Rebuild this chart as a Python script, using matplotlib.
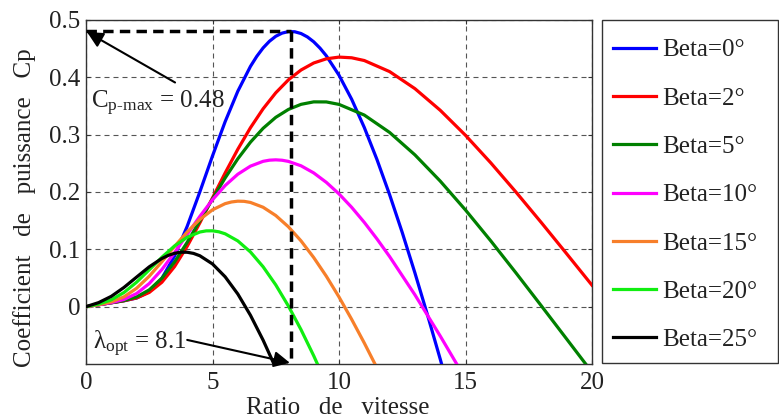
import matplotlib
matplotlib.use("Agg")
import matplotlib.pyplot as plt
from matplotlib.patches import Rectangle

# ---------------- data ----------------
labels = ["Beta=0°", "Beta=2°", "Beta=5°", "Beta=10°", "Beta=15°", "Beta=20°", "Beta=25°"]
colors = ["#0000FF", "#FF0000", "#008000", "#FF00FF", "#F77F2A", "#11EE11", "#000000"]

lam_b0 = [0, 0.5, 1, 1.5, 2, 2.5, 3, 3.5, 4, 4.5, 5, 5.5, 6, 6.5, 6.75, 7, 7.25, 7.5, 7.75,
          8, 8.25, 8.5, 8.75, 9, 9.25, 9.5, 10, 10.5, 11, 11.5, 12, 12.5, 13, 13.5, 14, 14.5]
cp_b0 = [0, 0.0034, 0.0068, 0.0103, 0.0151, 0.0261, 0.0495, 0.0883, 0.1402, 0.2002,
         0.2629, 0.3227, 0.3757, 0.4191, 0.4366, 0.4513, 0.4629, 0.4716, 0.4771,
         0.4798, 0.4795, 0.4764, 0.4705, 0.4620, 0.4509, 0.4375, 0.4037, 0.3618,
         0.3125, 0.2567, 0.1954, 0.1293, 0.0590, -0.0147, -0.0913, -0.1703]

lam_b2 = [0, 0.5, 1, 1.5, 2, 2.5, 3, 3.5, 4, 4.5, 5, 5.5, 6, 6.5, 7, 7.5, 8, 8.5, 9, 9.5,
          10, 10.5, 11, 12, 13, 14, 15, 16, 17, 18, 19, 20]
cp_b2 = [0, 0.0034, 0.0068, 0.0103, 0.0152, 0.0248, 0.0426, 0.0699, 0.1053, 0.1462,
         0.1897, 0.2332, 0.2745, 0.3121, 0.3451, 0.3730, 0.3956, 0.4128, 0.4250, 0.4323,
         0.4353, 0.4341, 0.4293, 0.4100, 0.3803, 0.3426, 0.2989, 0.2508, 0.1996, 0.1465,
         0.0922, 0.0374]

lam_b5 = [0, 0.5, 1, 1.5, 2, 2.5, 3, 3.5, 4, 4.5, 5, 5.5, 6, 6.5, 7, 7.5, 8, 8.5, 9, 9.5,
          10, 11, 12, 13, 14, 15, 16, 17, 18, 19, 20]
cp_b5 = [0, 0.0034, 0.0068, 0.0106, 0.0170, 0.0293, 0.0497, 0.0780, 0.1123, 0.1499,
         0.1880, 0.2245, 0.2579, 0.2869, 0.3111, 0.3302, 0.3440, 0.3529, 0.3572, 0.3571,
         0.3528, 0.3342, 0.3039, 0.2648, 0.2191, 0.1686, 0.1147, 0.0586, 0.0013, -0.0565,
         -0.1144]

lam_b10 = [0, 0.5, 1, 1.5, 2, 2.5, 3, 3.5, 4, 4.5, 5, 5.5, 6, 6.5, 7, 7.25, 7.5, 7.75, 8,
           8.5, 9, 9.5, 10, 10.5, 11, 11.5, 12, 13, 14, 15]
cp_b10 = [0, 0.0034, 0.0070, 0.0125, 0.0229, 0.0403, 0.0648, 0.0943, 0.1261, 0.1575,
          0.1865, 0.2113, 0.2310, 0.2451, 0.2535, 0.2555, 0.2561, 0.2554, 0.2534,
          0.2457, 0.2333, 0.2168, 0.1967, 0.1733, 0.1470, 0.1182, 0.0874, 0.0207,
          -0.0511, -0.1260]

lam_b15 = [0, 0.5, 1, 1.5, 2, 2.5, 3, 3.5, 4, 4.5, 5, 5.5, 5.75, 6, 6.25, 6.5, 7, 7.5, 8,
           8.5, 9, 9.5, 10, 10.5, 11, 11.5]
cp_b15 = [0, 0.0035, 0.0083, 0.0171, 0.0321, 0.0531, 0.0784, 0.1050, 0.1304, 0.1522,
          0.1689, 0.1797, 0.1826, 0.1840, 0.1837, 0.1818, 0.1734, 0.1590, 0.1393, 0.1147,
          0.0857, 0.0530, 0.0169, -0.0221, -0.0634, -0.1068]

lam_b20 = [0, 0.5, 1, 1.5, 2, 2.5, 3, 3.5, 4, 4.5, 4.75, 5, 5.25, 5.5, 6, 6.5, 7, 7.5, 8,
           8.5, 9, 9.5]
cp_b20 = [0, 0.0044, 0.0119, 0.0247, 0.0427, 0.0642, 0.0862, 0.1059, 0.1211, 0.1302,
          0.1322, 0.1323, 0.1306, 0.1271, 0.1147, 0.0954, 0.0696, 0.0380, 0.0011, -0.0402,
          -0.0856, -0.1344]

lam_b25 = [0, 0.5, 1, 1.5, 2, 2.5, 3, 3.25, 3.5, 3.75, 4, 4.25, 4.5, 5, 5.5, 6, 6.5, 7,
           7.5, 8]
cp_b25 = [0, 0.0071, 0.0180, 0.0335, 0.0516, 0.0695, 0.0841, 0.0894, 0.0931, 0.0950,
          0.0949, 0.0929, 0.0888, 0.0745, 0.0521, 0.0221, -0.0150, -0.0584, -0.1070,
          -0.1611]

cp_max = 0.48
lam_opt = 8.1

xticks = [0, 5, 10, 15, 20]
xticklabels = ["0", "5", "10", "15", "20"]
yticks = [0, 0.1, 0.2, 0.3, 0.4, 0.5]
yticklabels = ["0", "0.1", "0.2", "0.3", "0.4", "0.5"]

# ---------------- style ----------------
plt.rcParams["font.family"] = ["Liberation Serif", "DejaVu Serif"]
plt.rcParams["mathtext.fontset"] = "custom"
plt.rcParams["mathtext.rm"] = "Liberation Serif"
plt.rcParams["mathtext.it"] = "Liberation Serif:italic"
FS = 18
TXT = "#222222"

W, H = 779, 420
fig = plt.figure(figsize=(W / 100, H / 100), dpi=100)
ax = fig.add_axes([86 / W, 1 - 364 / H, (592 - 86) / W, (364 - 20) / H])

series = [(lam_b0, cp_b0), (lam_b2, cp_b2), (lam_b5, cp_b5), (lam_b10, cp_b10),
          (lam_b15, cp_b15), (lam_b20, cp_b20), (lam_b25, cp_b25)]
handles = []
for (x, y), c, lab in zip(series, colors, labels):
    h, = ax.plot(x, y, color=c, lw=2.3, label=lab, zorder=3, solid_joinstyle="round")
    handles.append(h)

ax.set_xlim(0, 20)
ax.set_ylim(-0.1, 0.5)
ax.set_xticks(xticks)
ax.set_xticklabels(xticklabels)
ax.set_yticks(yticks)
ax.set_yticklabels(yticklabels)
ax.tick_params(direction="in", length=3, width=0.8, labelsize=FS, colors="#333333",
               labelcolor=TXT, top=True, right=True)
ax.tick_params(axis="y", pad=4)
ax.tick_params(axis="x", pad=6)
ax.grid(True, ls=(0, (4.5, 3.6)), color="#555555", lw=0.8, zorder=1)
for s in ax.spines.values():
    s.set_color("#333333")
    s.set_linewidth(1.0)

# dashed guide lines for the optimum
ax.plot([0, lam_opt], [cp_max, cp_max], color="k", lw=2.5, ls=(0, (3, 1.8)), zorder=4)
ax.plot([lam_opt, lam_opt], [cp_max, -0.1], color="k", lw=2.5, ls=(0, (3, 1.8)), zorder=4,
        clip_on=False)

# annotations
ax.annotate("", xy=(0.04, 0.479), xytext=(3.52, 0.391),
            arrowprops=dict(arrowstyle="-|>", color="k", lw=1.5, mutation_scale=24,
                            shrinkA=0, shrinkB=0), zorder=5)
ax.text(0.2, 0.354, r"C$_{\mathrm{p\text{-}max}}$ = 0.48", fontsize=FS, ha="left",
        va="center", color=TXT, zorder=5)
ax.annotate("", xy=(8.06, -0.098), xytext=(4.0, -0.058),
            arrowprops=dict(arrowstyle="-|>", color="k", lw=1.5, mutation_scale=24,
                            shrinkA=0, shrinkB=0), zorder=5, annotation_clip=False)
ax.text(0.28, -0.065, r"λ$_{\mathrm{opt}}$ = 8.1", fontsize=FS, ha="left",
        va="center", color=TXT, zorder=5)

# axis labels
fig.text(25 / W, 1 - 208 / H, "Coefficient   de   puissance   Cp", rotation=90,
         fontsize=FS, ha="center", va="center", color=TXT)
fig.text(338 / W, 1 - 408 / H, "Ratio   de   vitesse", fontsize=FS, ha="center",
         va="center", color=TXT)

# legend box on the right
fig.patches.append(Rectangle((602 / W, 1 - 363 / H), 176 / W, 343 / H,
                             transform=fig.transFigure, fill=True, facecolor="white",
                             edgecolor="#333333", lw=1.0, zorder=0))
leg = fig.legend(handles=handles, labels=labels, loc="upper left",
                 bbox_to_anchor=(593.5 / W, 1 - 20 / H),
                 borderaxespad=0, fontsize=FS, handlelength=1.75, handletextpad=0.25,
                 labelspacing=1.03, borderpad=0.76, frameon=False)
for t in leg.get_texts():
    t.set_color(TXT)

fig.savefig("out.png", dpi=100)
